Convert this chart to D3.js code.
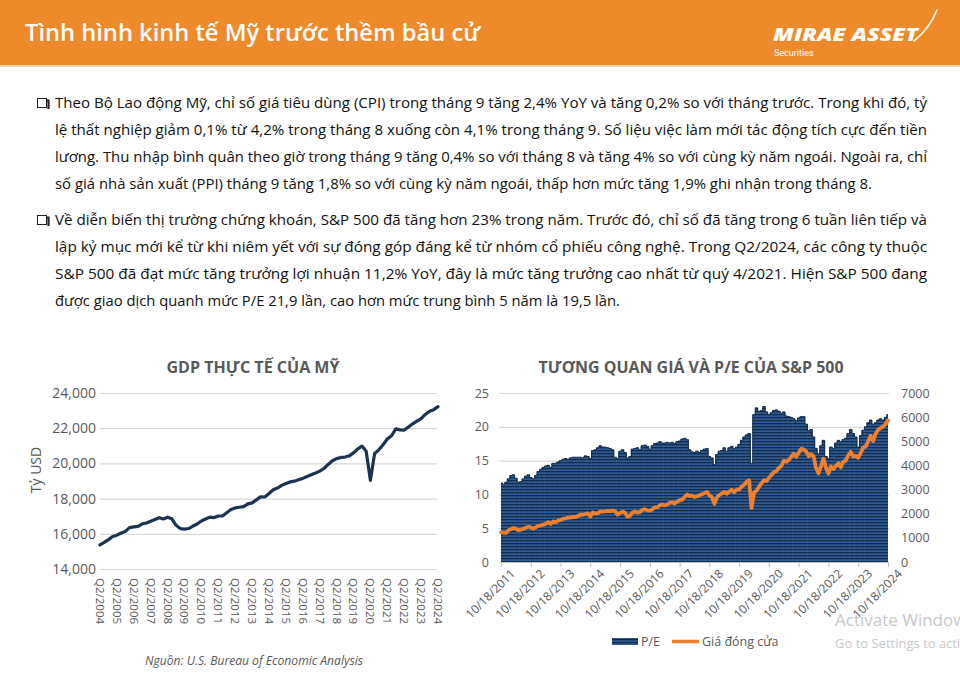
<!DOCTYPE html>
<html>
<head>
<meta charset="utf-8">
<script src="https://cdn.jsdelivr.net/npm/d3@7"></script>
<style>
  html,body{margin:0;padding:0;background:#fff;}
  svg{display:block;font-family:"Open Sans","Noto Sans",sans-serif;}
</style>
</head>
<body>
<svg id="chart" width="960" height="685"></svg>
<script>
// ---------------- DATA ----------------
const pageTitle = "Tình hình kinh tế Mỹ trước thềm bầu cử";
const para1 = [
  "Theo Bộ Lao động Mỹ, chỉ số giá tiêu dùng (CPI) trong tháng 9 tăng 2,4% YoY và tăng 0,2% so với tháng trước. Trong khi đó, tỷ",
  "lệ thất nghiệp giảm 0,1% từ 4,2% trong tháng 8 xuống còn 4,1% trong tháng 9. Số liệu việc làm mới tác động tích cực đến tiền",
  "lương. Thu nhập bình quân theo giờ trong tháng 9 tăng 0,4% so với tháng 8 và tăng 4% so với cùng kỳ năm ngoái. Ngoài ra, chỉ",
  "số giá nhà sản xuất (PPI) tháng 9 tăng 1,8% so với cùng kỳ năm ngoái, thấp hơn mức tăng 1,9% ghi nhận trong tháng 8."
];
const para2 = [
  "Về diễn biến thị trường chứng khoán, S&P 500 đã tăng hơn 23% trong năm. Trước đó, chỉ số đã tăng trong 6 tuần liên tiếp và",
  "lập kỷ mục mới kể từ khi niêm yết với sự đóng góp đáng kể từ nhóm cổ phiếu công nghệ. Trong Q2/2024, các công ty thuộc",
  "S&P 500 đã đạt mức tăng trưởng lợi nhuận 11,2% YoY, đây là mức tăng trưởng cao nhất từ quý 4/2021. Hiện S&P 500 đang",
  "được giao dịch quanh mức P/E 21,9 lần, cao hơn mức trung bình 5 năm là 19,5 lần."
];

// GDP chart (quarterly, Q2/2004 .. Q2/2024), billion USD
const gdpTitle = "GDP THỰC TẾ CỦA MỸ";
const gdpYTitle = "Tỷ USD";
const gdpSource = "Nguồn: U.S. Bureau of Economic Analysis";
const gdpValues = [
  15370,15510,15670,
  15844,15922,16047,16136,
  16354,16396,16420,16562,
  16611,16713,16809,16915,
  16843,16943,16854,16485,
  16298,16269,16300,16441,
  16560,16730,16840,16950,
  16920,17010,17010,17200,
  17380,17470,17510,17540,
  17700,17760,17930,18100,
  18090,18290,18500,18600,
  18750,18860,18950,18990,
  19070,19150,19260,19360,
  19450,19560,19710,19940,
  20150,20270,20340,20360,
  20430,20600,20820,20985,
  20690,19040,20560,20770,
  21060,21390,21571,21960,
  21904,21896,22067,22250,
  22404,22540,22780,22961,
  23054,23224
];
const gdpYTicks = [14000,16000,18000,20000,22000,24000];
const gdpXTickLabels = ["Q2/2004","Q2/2005","Q2/2006","Q2/2007","Q2/2008","Q2/2009","Q2/2010","Q2/2011","Q2/2012","Q2/2013","Q2/2014","Q2/2015","Q2/2016","Q2/2017","Q2/2018","Q2/2019","Q2/2020","Q2/2021","Q2/2022","Q2/2023","Q2/2024"];

// S&P 500 chart (monthly, 10/2011 .. 10/2024)
const spTitle = "TƯƠNG QUAN GIÁ VÀ P/E CỦA S&P 500";
const spSeriesNames = ["P/E","Giá đóng cửa"];
const spStart = {year:2011, month:10, day:18};
const peValues = [
  11.7,11.5,11.8,
  12.3,12.8,12.9,12.4,11.8,11.9,12.3,12.7,12.9,12.5,12.3,12.8,
  13.4,13.7,14.0,14.2,14.3,14.0,14.6,14.6,14.8,15.0,15.2,15.3,
  15.2,15.4,15.5,15.5,15.5,15.5,15.4,15.7,15.6,15.3,16.5,16.6,
  16.9,17.2,17.0,17.0,16.9,16.8,16.6,15.5,15.3,16.4,16.6,16.2,
  15.4,15.6,16.7,16.8,16.9,16.6,17.2,17.3,17.1,16.7,17.2,17.5,
  17.6,17.8,17.6,17.6,17.7,17.6,17.7,17.5,17.8,17.9,18.2,18.3,
  18.1,16.6,16.3,16.2,16.4,16.2,16.5,16.7,16.8,15.6,15.4,14.4,
  15.9,16.4,16.5,16.9,16.4,16.9,17.1,16.8,17.0,17.4,18.0,18.5,
  18.8,19.0,14.6,21.8,22.8,22.3,22.4,23.0,22.2,21.8,22.1,22.4,
  22.5,22.3,22.0,22.2,21.6,21.5,21.4,21.2,20.9,21.3,21.5,21.5,
  20.4,19.4,19.6,18.5,16.8,16.0,17.2,18.0,15.6,15.3,17.0,16.8,
  17.6,18.0,17.8,18.1,18.3,19.0,19.6,19.0,18.5,17.0,18.7,19.5,
  20.0,20.6,21.0,20.4,20.6,21.0,21.2,21.0,21.4,21.8
];
const priceValues = [
  1225,1216,1206,
  1314,1362,1409,1385,1318,1343,1376,1418,1460,1433,1387,1435,
  1493,1512,1552,1574,1651,1573,1680,1652,1713,1733,1795,1810,
  1838,1840,1872,1862,1897,1957,1958,1982,2011,1886,2053,2012,
  2019,2097,2089,2095,2121,2097,2126,2103,1958,2033,2089,2044,
  1880,1917,2049,2094,2047,2071,2163,2187,2139,2126,2181,2262,
  2271,2351,2385,2342,2381,2453,2473,2428,2508,2559,2579,2690,
  2798,2732,2752,2693,2713,2763,2809,2850,2905,2768,2690,2416,
  2670,2780,2833,2905,2826,2920,2990,2889,3006,2998,3123,3192,
  3329,3386,2240,2875,2953,3113,3257,3390,3357,3483,3609,3722,
  3768,3906,3974,4185,4160,4222,4358,4480,4358,4520,4688,4668,
  4577,4381,4463,4391,3901,3674,3962,4283,3900,3665,3965,3852,
  3972,4090,3917,4154,4198,4410,4565,4370,4403,4314,4514,4740,
  4780,5000,5225,5011,5303,5473,5546,5608,5713,5865
];
const peTicks = [0,5,10,15,20,25];
const priceTicks = [0,1000,2000,3000,4000,5000,6000,7000];
const spXTickLabels = ["10/18/2011","10/18/2012","10/18/2013","10/18/2014","10/18/2015","10/18/2016","10/18/2017","10/18/2018","10/18/2019","10/18/2020","10/18/2021","10/18/2022","10/18/2023","10/18/2024"];

const watermark = ["Activate Windows","Go to Settings to activate Windows."];

// ---------------- DRAW ----------------
const svg = d3.select("#chart");
const grey = "#595959", grid = "#d9d9d9";

// defs
const defs = svg.append("defs");
const pat = defs.append("pattern").attr("id","peStripe").attr("patternUnits","userSpaceOnUse")
  .attr("width",6).attr("height",3);
pat.append("rect").attr("width",6).attr("height",3).attr("fill","#2c5a92");
pat.append("rect").attr("y",0).attr("width",6).attr("height",1.3).attr("fill","#142b4a");
defs.append("clipPath").attr("id","spClip").append("rect")
  .attr("x",501).attr("y",380).attr("width",387).attr("height",183);

// header
svg.append("rect").attr("x",0).attr("y",0).attr("width",960).attr("height",65).attr("fill","#EF8A2A");
svg.append("rect").attr("x",0).attr("y",65).attr("width",960).attr("height",2).attr("fill","#f7d3ae");
svg.append("text").attr("x",25).attr("y",41).attr("fill","#fff")
  .attr("font-size",23).attr("font-weight",600)
  .attr("textLength",455).attr("lengthAdjust","spacingAndGlyphs").text(pageTitle);
// logo
svg.append("text").attr("x",773).attr("y",41).attr("fill","#fff").attr("font-size",17)
  .attr("font-weight",800).attr("font-style","italic")
  .attr("textLength",145).attr("lengthAdjust","spacingAndGlyphs").text("MIRAE ASSET");
svg.append("text").attr("x",774).attr("y",55.5).attr("fill","#fff").attr("font-size",9)
  .attr("font-family","Roboto, sans-serif").text("Securities");
svg.append("path").attr("d","M914,41 Q930,28 937,10").attr("fill","none")
  .attr("stroke","#fff").attr("stroke-width",1.6).attr("stroke-linecap","round");

// body paragraphs
function bullet(y){
  const g = svg.append("g");
  g.append("path").attr("d",`M${40.5},${y-7.5} h8 v8.5`).attr("fill","none").attr("stroke","#222").attr("stroke-width",2.2);
  g.append("rect").attr("x",37.5).attr("y",y-9.5).attr("width",9).attr("height",9)
    .attr("fill","#fff").attr("stroke","#222").attr("stroke-width",1);
}
function para(lines, y0, lastLen){
  lines.forEach((t,i)=>{
    const y = y0 + i*27;
    const len = i===lines.length-1 ? lastLen : 872;
    svg.append("text").attr("x",55).attr("y",y).attr("fill","#111").attr("font-size",14.5)
      .attr("textLength",len).attr("lengthAdjust","spacingAndGlyphs").text(t);
  });
  bullet(y0);
}
para(para1,108,817);
para(para2,225,565);

// ---------- GDP chart ----------
const gx = d3.scaleLinear().domain([0,gdpValues.length-1]).range([100,438]);
const gy = d3.scaleLinear().domain([14000,24000]).range([569,393]);
svg.append("text").attr("x",253).attr("y",373).attr("text-anchor","middle").attr("fill",grey)
  .attr("font-size",16).attr("font-weight",700)
  .attr("textLength",173).attr("lengthAdjust","spacingAndGlyphs").text(gdpTitle);
const gAxisY = svg.append("g").attr("transform","translate(100,0)")
  .call(d3.axisLeft(gy).tickValues(gdpYTicks).tickSize(-337).tickFormat(d3.format(",")));
gAxisY.select(".domain").remove();
gAxisY.selectAll(".tick line").attr("stroke",grid).attr("stroke-width",1.2);
gAxisY.selectAll(".tick text").attr("x",-4).attr("fill",grey).attr("font-size",14)
  .attr("font-family","'Open Sans',sans-serif");
svg.append("text").attr("transform","translate(41,470) rotate(-90)").attr("text-anchor","middle")
  .attr("fill",grey).attr("font-size",14).text(gdpYTitle);
gdpXTickLabels.forEach((lab,i)=>{
  svg.append("text").attr("transform",`translate(${gx(i*4)},578) rotate(90)`)
    .attr("dy","0.35em").attr("fill",grey).attr("font-size",11.5).text(lab);
});
svg.append("path").datum(gdpValues)
  .attr("d",d3.line().x((d,i)=>gx(i)).y(d=>gy(d)))
  .attr("fill","none").attr("stroke","#1c3352").attr("stroke-width",3.2)
  .attr("stroke-linejoin","round").attr("stroke-linecap","round");
svg.append("text").attr("x",145).attr("y",665).attr("fill",grey).attr("font-size",12)
  .attr("font-style","italic").attr("textLength",218).attr("lengthAdjust","spacingAndGlyphs").text(gdpSource);

// ---------- S&P chart ----------
const startDate = new Date(spStart.year, spStart.month-1, spStart.day);
const dates = peValues.map((d,i)=>d3.timeMonth.offset(startDate,i));
const tickDates = spXTickLabels.map((d,i)=>d3.timeYear.offset(startDate,i));
const sx = d3.scaleTime().domain([startDate, dates[dates.length-1]]).range([501,888]);
const syL = d3.scaleLinear().domain([0,25]).range([562,393]);
const syR = d3.scaleLinear().domain([0,7000]).range([562,393]);

svg.append("text").attr("x",691).attr("y",373).attr("text-anchor","middle").attr("fill",grey)
  .attr("font-size",16).attr("font-weight",700)
  .attr("textLength",305).attr("lengthAdjust","spacingAndGlyphs").text(spTitle);

const sAxisL = svg.append("g").attr("transform","translate(499,0)")
  .call(d3.axisLeft(syL).tickValues(peTicks).tickSize(-390));
sAxisL.select(".domain").remove();
sAxisL.selectAll(".tick line").attr("stroke",grid).attr("stroke-width",1.2);
sAxisL.selectAll(".tick text").attr("x",-10).attr("fill",grey).attr("font-size",12.5)
  .attr("font-family","'Open Sans',sans-serif");
const sAxisR = svg.append("g").attr("transform","translate(889,0)")
  .call(d3.axisRight(syR).tickValues(priceTicks).tickSize(0).tickFormat(d3.format("d")));
sAxisR.select(".domain").remove();
sAxisR.selectAll(".tick text").attr("x",12).attr("fill",grey).attr("font-size",12.5)
  .attr("font-family","'Open Sans',sans-serif");

const bw = (sx.range()[1]-sx.range()[0])/(dates.length-1);
const barsG = svg.append("g").attr("clip-path","url(#spClip)");
barsG.selectAll("rect.pe").data(peValues).join("rect").attr("class","pe")
  .attr("x",(d,i)=>sx(dates[i])-bw/2-0.3).attr("width",bw+0.6)
  .attr("y",d=>syL(d)).attr("height",d=>syL(0)-syL(d))
  .attr("fill","url(#peStripe)");
barsG.append("path").datum(peValues)
  .attr("d",d3.line().x((d,i)=>sx(dates[i])).y(d=>syL(d)).curve(d3.curveStep))
  .attr("fill","none").attr("stroke","#142b4a").attr("stroke-width",1);

const sAxisX = svg.append("g").attr("transform","translate(0,562)")
  .call(d3.axisBottom(sx).tickValues(tickDates).tickSize(5).tickFormat((d,i)=>spXTickLabels[i]));
sAxisX.select(".domain").attr("stroke","#bfbfbf");
sAxisX.selectAll(".tick line").attr("stroke","#bfbfbf");
sAxisX.selectAll(".tick text").attr("fill",grey).attr("font-size",12)
  .attr("font-family","'Open Sans',sans-serif")
  .attr("text-anchor","end").attr("transform","translate(5,3) rotate(-45)").attr("dy","0.6em").attr("y",6);

svg.append("path").datum(priceValues)
  .attr("d",d3.line().x((d,i)=>sx(dates[i])).y(d=>syR(d)))
  .attr("fill","none").attr("stroke","#EE7F2D").attr("stroke-width",3.8)
  .attr("stroke-linejoin","round").attr("stroke-linecap","round");

// legend
svg.append("rect").attr("x",612).attr("y",638).attr("width",26).attr("height",7).attr("fill","url(#peStripe)");
svg.append("text").attr("x",641).attr("y",646).attr("fill",grey).attr("font-size",12.5).text(spSeriesNames[0]);
svg.append("line").attr("x1",672).attr("x2",699).attr("y1",641.5).attr("y2",641.5)
  .attr("stroke","#EE7F2D").attr("stroke-width",3.5);
svg.append("text").attr("x",702).attr("y",646).attr("fill",grey).attr("font-size",12.5).text(spSeriesNames[1]);

// watermark (clipped by the page edge, as in the reference)
svg.append("text").attr("x",835).attr("y",626).attr("fill","#c8c8c8").attr("font-size",17).text(watermark[0]);
svg.append("text").attr("x",835).attr("y",648).attr("fill","#c8c8c8").attr("font-size",13).text(watermark[1]);
</script>
</body>
</html>
